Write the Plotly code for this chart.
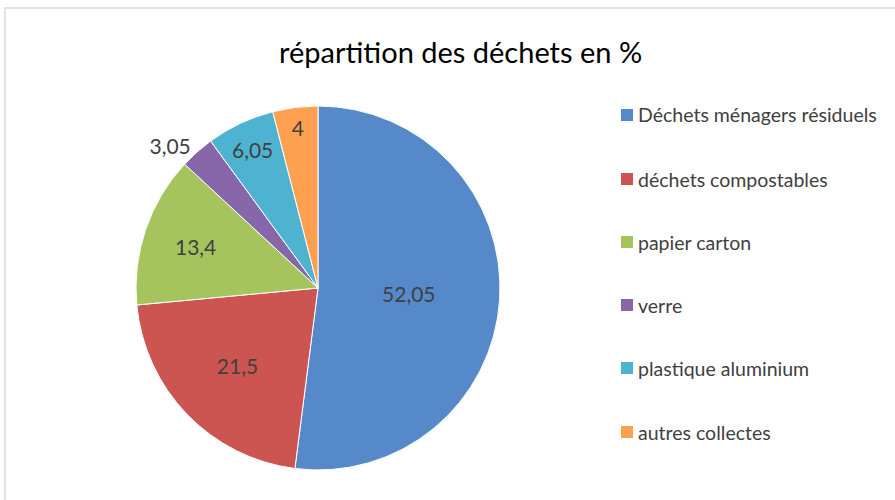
import plotly.graph_objects as go

categories = ["Déchets ménagers résiduels", "déchets compostables", "papier carton",
              "verre", "plastique aluminium", "autres collectes"]
values = [52.05, 21.5, 13.4, 3.05, 6.05, 4]
labels_txt = ["52,05", "21,5", "13,4", "3,05", "6,05", "4"]
colors = ["#5589C9", "#CC5552", "#A5C45E", "#8767A9", "#4DB3D0", "#FDA04F"]
positions = ["inside", "inside", "inside", "outside", "inside", "inside"]

FONT = "Lato"
TXT = "#404040"

fig = go.Figure(go.Pie(
    labels=categories, values=values, text=labels_txt,
    texttemplate="%{text}", textinfo="text",
    textposition=positions, insidetextorientation="horizontal",
    sort=False, direction="clockwise", rotation=0,
    marker=dict(colors=colors, line=dict(color="white", width=1)),
    textfont=dict(family=FONT, size=21, color=TXT),
    domain=dict(x=[136/895, 500/895], y=[30/500, 394/500]),
    showlegend=False, hoverinfo="label+value",
))

shapes = [dict(type="rect", xref="paper", yref="paper", x0=5/895, x1=1.02, y0=-0.02, y1=492/500,
               line=dict(color="#D9D9D9", width=1.5), fillcolor="rgba(0,0,0,0)")]
annotations = [dict(text="répartition des déchets en %", x=461/895, y=448/500, xref="paper", yref="paper",
                    showarrow=False, font=dict(family=FONT, size=29, color="#000000"),
                    xanchor="center", yanchor="middle")]
leg_y = [115, 179, 242, 305, 368, 432]
for cat, col, py in zip(categories, colors, leg_y):
    shapes.append(dict(type="rect", xref="paper", yref="paper",
                       x0=621/895, x1=633/895, y0=(500 - py - 6)/500, y1=(500 - py + 6)/500,
                       fillcolor=col, line=dict(width=0)))
    annotations.append(dict(text=cat, x=636/895, y=(500 - py)/500, xref="paper", yref="paper",
                            showarrow=False, xanchor="left", yanchor="middle",
                            font=dict(family=FONT, size=19.5, color=TXT)))

fig.update_layout(
    width=895, height=500, margin=dict(l=0, r=0, t=0, b=0),
    paper_bgcolor="white", plot_bgcolor="white",
    separators=", ", shapes=shapes, annotations=annotations,
)
fig.write_html("out.html", config={"displayModeBar": False},
               post_script="document.body.style.margin='0';")
